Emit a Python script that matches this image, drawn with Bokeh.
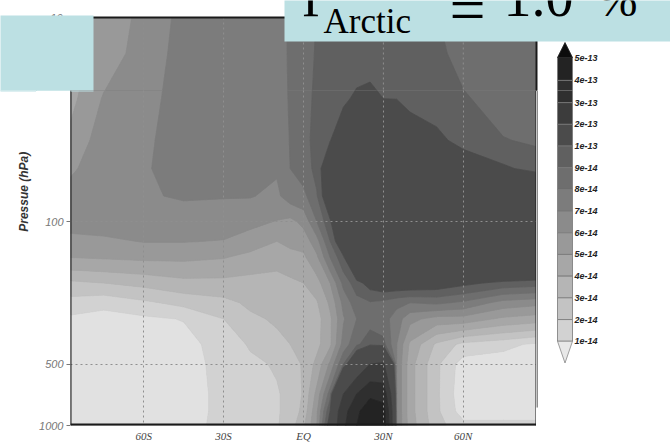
import numpy as np
from bokeh.plotting import figure
from bokeh.plotting.contour import contour_data
from bokeh.models import Range1d, FixedTicker, Label, Span, BoxAnnotation
from bokeh.layouts import column, row
from bokeh.core.properties import value
from bokeh.embed import file_html
from bokeh.resources import INLINE

# ---------------- data ----------------
LATS = [-87.5, -75, -60, -45, -30, -20, -10, -5, 0, 5, 10, 15, 20, 25, 30, 35, 40, 50, 60, 75, 87.5]
PRESSURE = [10, 15, 25, 40, 55, 75, 100, 125, 150, 200, 250, 300, 400, 500, 700, 850, 1000]

# values in units of 1e-14, one list per latitude, in PRESSURE order
FIELD_BY_LAT = [
    [4.3, 4.5, 4.7, 5.3, 5.8, 6.5, 6.4, 5.7, 5.0, 2.8, 1.6, 0.8, 0.5, 0.4, 0.4, 0.4, 0.4],       # -87.5
    [5.3, 5.5, 6.1, 6.5, 6.7, 6.8, 6.5, 5.8, 5.1, 3.0, 1.3, 0.6, 0.3, 0.3, 0.3, 0.3, 0.4],       # -75
    [6.3, 6.4, 6.6, 6.8, 6.9, 6.9, 6.6, 6.05, 5.2, 3.3, 1.8, 0.8, 0.3, 0.3, 0.3, 0.3, 0.4],      # -60
    [7.3, 7.4, 7.5, 7.5, 7.4, 7.1, 6.5, 6.05, 5.2, 3.7, 2.3, 1.05, 0.6, 0.5, 0.5, 0.5, 0.6],     # -45
    [7.5, 7.6, 7.7, 7.6, 7.4, 7.05, 6.5, 5.95, 5.05, 3.7, 2.7, 2.0, 1.5, 1.4, 1.3, 1.3, 1.3],    # -30
    [7.5, 7.6, 7.7, 7.6, 7.4, 7.05, 6.3, 5.5, 4.7, 3.6, 3.2, 2.8, 2.1, 1.8, 1.6, 1.5, 1.5],      # -20
    [7.4, 7.5, 7.5, 7.3, 7.1, 6.8, 5.95, 5.0, 4.4, 3.6, 3.3, 3.15, 2.7, 2.1, 1.9, 1.9, 1.9],     # -10
    [8.2, 8.15, 8.1, 8.05, 8.0, 7.5, 5.7, 5.3, 4.6, 3.8, 3.5, 3.3, 3.0, 2.6, 2.3, 2.3, 2.5],     # -5
    [8.5, 8.55, 8.65, 8.7, 8.5, 7.7, 6.3, 5.4, 4.8, 4.0, 3.6, 3.4, 3.2, 3.1, 3.1, 3.3, 3.8],     # 0
    [9.05, 9.1, 9.2, 9.3, 9.3, 8.9, 8.0, 6.6, 5.8, 4.6, 3.9, 3.6, 3.7, 4.3, 5.3, 5.8, 6.0],      # 5
    [9.15, 9.3, 9.6, 9.95, 11.5, 11.5, 9.8, 9.0, 8.0, 6.0, 5.2, 4.8, 4.8, 6.2, 8.5, 10.0, 11.0], # 10
    [9.2, 9.4, 9.8, 11, 13, 14, 13, 11.5, 9.8, 8.3, 7.3, 6.9, 7.4, 9.0, 20, 26, 28],             # 15
    [9.3, 9.5, 10.2, 14, 16, 17, 17, 16, 13, 9.6, 8.6, 8.0, 8.8, 13, 30, 38, 40],                # 20
    [9.3, 9.6, 10.3, 15, 17, 18, 18, 17, 15, 10.5, 8.9, 8.6, 9.6, 20, 38, 46, 48],               # 25
    [9.4, 9.7, 10, 15, 17, 18, 18, 18, 16, 11, 8.7, 8.4, 9.3, 21, 36, 44, 46],                   # 30
    [9.4, 9.7, 9.95, 14, 17, 18, 18, 18, 16, 11, 8.3, 7.5, 7.0, 6.9, 6.9, 6.9, 6.9],             # 35
    [9.3, 9.5, 9.7, 10.8, 15, 17, 18, 18, 16, 11, 8.0, 6.3, 4.8, 4.4, 4.4, 4.4, 4.5],            # 40
    [9.05, 9.2, 9.5, 10.3, 14, 17, 18, 17, 16, 10.8, 8.2, 5.6, 2.8, 2.2, 2.2, 2.2, 2.4],         # 50
    [8.4, 8.7, 9.1, 9.6, 11, 15, 16, 16, 15, 10.3, 7.8, 5.6, 1.7, 0.5, 0.3, 0.5, 1.3],           # 60
    [8.1, 8.3, 8.6, 9.05, 10.2, 14, 15, 15, 14, 9.7, 6.6, 4.8, 1.3, 0.4, 0.3, 0.5, 1.3],         # 75
    [8.2, 8.3, 8.5, 8.85, 9.6, 13, 14, 14, 13.5, 9.5, 6.3, 4.5, 0.8, 0.4, 0.3, 0.5, 1.3],        # 87.5
]

LEVELS = [0, 1, 2, 3, 4, 5, 6, 7, 8, 9, 10, 20, 30, 40, 50, 1000]
LEVEL_LABELS = ["1e-14", "2e-14", "3e-14", "4e-14", "5e-14", "6e-14", "7e-14", "8e-14",
                "9e-14", "1e-13", "2e-13", "3e-13", "4e-13", "5e-13"]
PALETTE = ["#e1e1e1", "#d2d2d2", "#c3c3c3", "#b5b5b5", "#a7a7a7", "#999999", "#8b8b8b",
           "#7c7c7c", "#6e6e6e", "#606060", "#4b4b4b", "#3c3c3c", "#2f2f2f", "#232323", "#0c0c0c"]

LAT_TICKS = [-60, -30, 0, 30, 60]
LAT_LABELS = ["60S", "30S", "EQ", "30N", "60N"]
P_TICKS = [10, 100, 500, 1000]
P_LABELS = ["10", "100", "500", "1000"]
Y_TITLE = "Pressue (hPa)"

TITLE_PARTS = ["\u0393", "Arctic", "=", "1.0", "%"]
TEAL = "#bce0e3"
BORDER = "#1a1a1a"
GRID = "#8f8f8f"

# ---------------- page geometry (pixels) ----------------
W, H = 670, 444
FL, FT, FW, FH = 70, 17, 466, 408          # plot frame
SPLIT = 91                                 # upper strip height
OV = 1                                     # lower row overlaps the strip by this much
Y0 = SPLIT - OV                            # page y where the lower row starts
TITLE_BOX = (284, 670, 0, 41)              # left, right, top, bottom
LEFT_BOX = (0, 93, 15, 91)
TITLE_POS = [(302, 15, 50), (323, 33, 35), (449, 31, 64), (503, 15, 56), (597, 15, 48)]
CB = dict(left=557, right=572, top=57, step=22.92, tip_top=15, tip_bot=23)
LABW = 36                                  # width of the y-title column
RX = FL + FW


def xd(px):
    return -87.5 + (px - FL) * 175.0 / FW


def yd(py):
    return 10 ** (1 + (py - FT) * 2.0 / FH)


def plain_fig(w, h, xr, yr, log=False, border="white"):
    f = figure(width=w, height=h, x_range=xr, y_range=yr, output_backend="svg",
               y_axis_type="log" if log else "linear",
               toolbar_location=None, x_axis_location=None, y_axis_location=None,
               min_border_left=0, min_border_right=0, min_border_top=0, min_border_bottom=0)
    f.grid.visible = False
    f.outline_line_color = None
    f.background_fill_color = "white"
    f.border_fill_color = border
    return f


# ---------------- contour polygons ----------------
Z = np.array(FIELD_BY_LAT, dtype=float).T
cd = contour_data(np.array(LATS, dtype=float), np.array(PRESSURE, dtype=float), Z, LEVELS,
                  want_fill=True, want_line=False)
fd = cd.fill_data
lv = np.array(LEVELS, dtype=float)
colors = [PALETTE[int(np.argmin(np.abs(lv - lo)))] for lo in fd.lower_levels]


def tolist(obj):
    return [[[list(map(float, ring)) for ring in poly] for poly in mp] for mp in obj]


CXS, CYS = tolist(fd.xs), tolist(fd.ys)


def draw_field(f):
    f.quad(left=[min(LATS)], right=[max(LATS)], top=[min(PRESSURE)], bottom=[max(PRESSURE)],
           fill_color=PALETTE[7], line_color=None)
    f.multi_polygons(xs=CXS, ys=CYS, fill_color=colors, line_color=colors, line_width=0.8)


cb_tops = [CB["top"] + i * CB["step"] for i in range(len(LEVEL_LABELS))]
nblk = len(LEVEL_LABELS) - 1
cb_labels_top_down = list(reversed(LEVEL_LABELS))


def draw_colorbar(f, cx, cy, label_filter):
    f.quad(left=[cx(CB["left"])] * nblk, right=[cx(CB["right"])] * nblk,
           top=[cy(cb_tops[i]) for i in range(nblk)], bottom=[cy(cb_tops[i + 1]) for i in range(nblk)],
           fill_color=[PALETTE[nblk - i] for i in range(nblk)], line_color="#777777", line_width=0.8)
    mid = (CB["left"] + CB["right"]) / 2
    bot = cb_tops[nblk]
    f.patches(xs=[[cx(CB["left"]), cx(CB["right"]), cx(mid)]] * 2,
              ys=[[cy(CB["top"]), cy(CB["top"]), cy(CB["top"] - CB["tip_top"])],
                  [cy(bot), cy(bot), cy(bot + CB["tip_bot"])]],
              fill_color=[PALETTE[-1], "#e8e8e8"], line_color=["#222222", "#888888"], line_width=0.8)
    idx = [i for i in range(len(cb_tops)) if label_filter(cb_tops[i])]
    f.text(x=[cx(CB["right"] + 2)] * len(idx), y=[cy(cb_tops[i]) for i in idx],
           text=[cb_labels_top_down[i] for i in idx], text_align="left", text_baseline="middle",
           text_font=value("Liberation Sans"), text_font_style="bold italic", text_font_size="9px",
           text_color="#222222")


# ---------------- upper strip (y 0..91), data coordinates ----------------
top = plain_fig(W, SPLIT, Range1d(xd(0), xd(W)), Range1d(yd(SPLIT), yd(0)), log=True, border=PALETTE[7])
draw_field(top)
top.segment(x0=LAT_TICKS, y0=[P_TICKS[0]] * len(LAT_TICKS), x1=LAT_TICKS, y1=[P_TICKS[-1]] * len(LAT_TICKS),
            line_color=GRID, line_dash="2 3", line_width=1)
top.segment(x0=[min(LATS), min(LATS), max(LATS)], y0=[P_TICKS[0]] * 3,
            x1=[max(LATS), min(LATS), max(LATS)], y1=[P_TICKS[0], P_TICKS[-1], P_TICKS[-1]],
            line_color=BORDER, line_width=2)
top.text(x=[xd(FL - 8)], y=[P_TICKS[0]], text=[P_LABELS[0]], text_align="right", text_baseline="middle",
         text_font=value("Liberation Sans"), text_font_style="italic", text_font_size="11px",
         text_color="#777777")
top.quad(left=[xd(LEFT_BOX[0] - 1)], right=[xd(LEFT_BOX[1])], top=[yd(LEFT_BOX[2])], bottom=[yd(LEFT_BOX[3] + 1)],
         fill_color=TEAL, line_color=None)
top.quad(left=[xd(TITLE_BOX[0])], right=[xd(TITLE_BOX[1] + 1)], top=[yd(-1)], bottom=[yd(TITLE_BOX[3])],
         fill_color=TEAL, line_color=None)
draw_colorbar(top, xd, yd, lambda v: v < Y0)
for txt, (px, py, sz) in zip(TITLE_PARTS, TITLE_POS):
    top.add_layout(Label(x=xd(px), y=yd(py - 0.338 * sz), text=txt, text_baseline="middle",
                         text_align="left", text_font="Liberation Serif", text_font_size=f"{sz}px",
                         text_color="#000000"))

# ---------------- y title column ----------------
lab = plain_fig(LABW, H - Y0, Range1d(0, LABW), Range1d(H - Y0, 0))
lab.quad(left=[-1], right=[LABW + 1], top=[-1], bottom=[LEFT_BOX[3] - Y0],
         fill_color=TEAL, line_color=None)
lab.text(x=[23.5], y=[197 - Y0], text=[Y_TITLE], angle=np.pi / 2, text_align="center",
         text_baseline="middle", text_font=value("Liberation Sans"), text_font_style="bold italic",
         text_font_size="12px", text_color="#333333")

# ---------------- y axis column (1px frame acts as the left border) ----------------
yf = figure(width=FL - LABW, height=H - Y0, x_range=Range1d(0, 1), y_range=Range1d(1000, yd(Y0)),
            y_axis_type="log", x_axis_location=None, output_backend="svg", toolbar_location=None,
            min_border_left=FL - LABW - 1, min_border_right=0, min_border_top=0,
            min_border_bottom=H - FT - FH)
yf.grid.visible = False
yf.outline_line_color = None
yf.background_fill_color = BORDER
yf.border_fill_color = "white"
yf.yaxis.ticker = FixedTicker(ticks=P_TICKS[1:])
yf.yaxis.major_label_overrides = {t: l for t, l in zip(P_TICKS, P_LABELS)}
yf.yaxis.major_label_text_font = "Liberation Sans"
yf.yaxis.major_label_text_font_style = "italic"
yf.yaxis.major_label_text_font_size = "11px"
yf.yaxis.major_label_text_color = "#777777"
yf.yaxis.major_tick_out = 4
yf.yaxis.major_tick_in = 0
yf.yaxis.major_tick_line_color = "#777777"
yf.yaxis.minor_tick_line_color = None
yf.yaxis.axis_line_color = None
yf.yaxis.major_label_standoff = 3

# ---------------- main plot (lower part) ----------------
p = figure(width=FW, height=H - Y0, x_range=Range1d(-87.5, 87.5),
           y_range=Range1d(1000, yd(Y0)), y_axis_type="log", y_axis_location=None,
           output_backend="svg", toolbar_location=None, min_border_left=0, min_border_right=0,
           min_border_top=0, min_border_bottom=H - FT - FH)
p.outline_line_color = None
p.background_fill_color = PALETTE[7]
p.border_fill_color = "white"
draw_field(p)

p.xaxis.ticker = FixedTicker(ticks=LAT_TICKS)
p.xaxis.major_label_overrides = {t: l for t, l in zip(LAT_TICKS, LAT_LABELS)}
p.xaxis.major_label_text_font = "Liberation Serif"
p.xaxis.major_label_text_font_style = "italic"
p.xaxis.major_label_text_font_size = "11px"
p.xaxis.major_label_text_color = "#444444"
p.xaxis.major_tick_out = 0
p.xaxis.major_tick_in = 0
p.xaxis.minor_tick_line_color = None
p.xaxis.axis_line_color = None
p.xaxis.major_label_standoff = 4

p.xgrid.ticker = FixedTicker(ticks=LAT_TICKS)
p.ygrid.ticker = FixedTicker(ticks=[100, 500])
for g in (p.xgrid, p.ygrid):
    g.grid_line_color = GRID
    g.grid_line_dash = "2 3"
    g.grid_line_width = 1
    g.level = "annotation"

p.add_layout(Span(location=1000, dimension="width", line_color=BORDER, line_width=4))
p.add_layout(Span(location=-87.5, dimension="height", line_color=BORDER, line_width=2))
p.add_layout(Span(location=87.5, dimension="height", line_color=BORDER, line_width=2))

# teal box part that falls inside the overlap row
p.add_layout(BoxAnnotation(left=xd(LEFT_BOX[0]), right=xd(LEFT_BOX[1]), top=yd(Y0 - 2), bottom=yd(LEFT_BOX[3]),
                           fill_color=TEAL, fill_alpha=1.0, line_color=None))

# ---------------- right column below the strip: colour bar ----------------
c = plain_fig(W - RX, H - Y0, Range1d(0, W - RX), Range1d(H - Y0, 0))
c.segment(x0=[0.5], y0=[0], x1=[0.5], y1=[FT + FH - Y0], line_color=BORDER, line_width=1)
draw_colorbar(c, lambda v: v - RX, lambda v: v - Y0, lambda v: v >= Y0)

bottom_row = row(lab, yf, p, c, styles={"margin-top": f"-{OV}px"})
layout = column(top, bottom_row)
open("out.html", "w").write(file_html(layout, INLINE))
